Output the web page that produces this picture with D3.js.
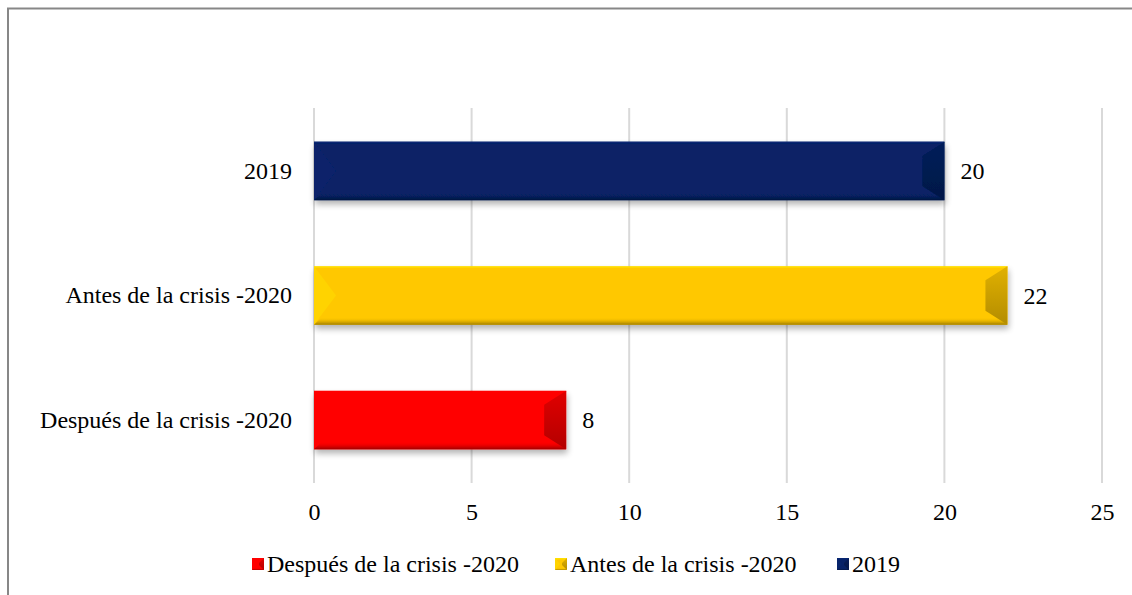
<!DOCTYPE html>
<html>
<head>
<meta charset="utf-8">
<script src="https://cdn.jsdelivr.net/npm/d3@7"></script>
<style>
  body { margin: 0; background: #fff; }
  svg { display: block; }
  svg text { font-family: "Liberation Serif", "Times New Roman", serif; fill: #000; }
</style>
</head>
<body>
<div id="chart"></div>
<script>
// values
var categories = ["2019", "Antes de la crisis -2020", "Después de la crisis -2020"];
var values = [20, 22, 8];
var colors = ["#072266", "#ffc800", "#ff0000"];
var legendOrder = ["Después de la crisis -2020", "Antes de la crisis -2020", "2019"];
var xTicks = [0, 5, 10, 15, 20, 25];

var width = 1132, height = 595;
var margin = {left: 314, right: 30, top: 108, bottom: 112};
var fontSize = 24;

var svg = d3.select("#chart").append("svg")
    .attr("width", width)
    .attr("height", height);

var defs = svg.append("defs");

// drop shadow under each bar
var shadow = defs.append("filter").attr("id", "shadow")
    .attr("x", "-5%").attr("y", "-10%").attr("width", "115%").attr("height", "140%");
shadow.append("feGaussianBlur").attr("in", "SourceAlpha").attr("stdDeviation", 3);
shadow.append("feOffset").attr("dx", 1).attr("dy", 4).attr("result", "b");
shadow.append("feComponentTransfer").append("feFuncA").attr("type", "linear").attr("slope", 0.3);
var merge = shadow.append("feMerge");
merge.append("feMergeNode");
merge.append("feMergeNode").attr("in", "SourceGraphic");

function shade(c, k) {
    var col = d3.color(c);
    return k > 0 ? col.brighter(k).formatHex() : col.darker(-k).formatHex();
}
// gradients for the end face and the bottom rim
colors.forEach(function(c, i) {
    var gr = defs.append("linearGradient").attr("id", "cap" + i)
        .attr("x1", 0).attr("y1", 0).attr("x2", 0).attr("y2", 1);
    gr.append("stop").attr("offset", "0%").attr("stop-color", shade(c, -0.35));
    gr.append("stop").attr("offset", "100%").attr("stop-color", shade(c, -1.0));
    var rim = defs.append("linearGradient").attr("id", "rim" + i)
        .attr("x1", 0).attr("y1", 0).attr("x2", 0).attr("y2", 1);
    rim.append("stop").attr("offset", "0%").attr("stop-color", c).attr("stop-opacity", 0);
    rim.append("stop").attr("offset", "100%").attr("stop-color", shade(c, -1.4));
});

// outer frame (only top and left edges are visible in the picture)
svg.append("path")
    .attr("d", "M8," + height + "V8.5H" + width)
    .attr("fill", "none")
    .attr("stroke", "#878787")
    .attr("stroke-width", 2);

var x = d3.scaleLinear()
    .domain([0, 25])
    .range([margin.left, width - margin.right]);

var y = d3.scaleBand()
    .domain(categories)
    .range([margin.top, height - margin.bottom])
    .paddingInner(0.53)
    .paddingOuter(0.27);

// grid lines
svg.append("g")
    .selectAll("line")
    .data(xTicks)
    .enter().append("line")
    .attr("x1", function(d) { return x(d); })
    .attr("x2", function(d) { return x(d); })
    .attr("y1", margin.top)
    .attr("y2", height - margin.bottom)
    .attr("stroke", "#d9d9d9")
    .attr("stroke-width", 2);

// x axis labels
var xAxis = d3.axisBottom(x).tickValues(xTicks).tickSize(0).tickPadding(20);
var gx = svg.append("g")
    .attr("transform", "translate(0," + (height - margin.bottom) + ")")
    .call(xAxis);
gx.select(".domain").remove();
gx.attr("font-size", fontSize).attr("font-family", null);

// y axis labels
var yAxis = d3.axisLeft(y).tickSize(0).tickPadding(22);
var gy = svg.append("g")
    .attr("transform", "translate(" + margin.left + ",0)")
    .call(yAxis);
gy.select(".domain").remove();
gy.attr("font-size", fontSize).attr("font-family", null);

// bevelled bar: body, rims, end faces
function bevelBar(g, x0, y0, w, h, i, bx, by) {
    var c = colors[i];
    var x1 = x0 + w, y1 = y0 + h, m = y0 + h / 2;
    var rimH = Math.max(2, h * 0.13);
    g.append("rect").attr("x", x0).attr("y", y0).attr("width", w).attr("height", h).attr("fill", c);
    // left face, a lighter wedge pointing to the middle
    g.append("path")
        .attr("d", "M" + x0 + "," + y0 + "L" + (x0 + bx) + "," + m + "L" + x0 + "," + y1 + "Z")
        .attr("fill", shade(c, 0.35)).attr("opacity", 0.4);
    // top rim
    g.append("rect").attr("x", x0).attr("y", y0).attr("width", w).attr("height", 1.5)
        .attr("fill", shade(c, 0.5)).attr("opacity", 0.6);
    // bottom rim
    g.append("path")
        .attr("d", "M" + x0 + "," + y1 + "L" + (x0 + rimH) + "," + (y1 - rimH) + "L" + (x1 - rimH) + "," + (y1 - rimH) + "L" + x1 + "," + y1 + "Z")
        .attr("fill", "url(#rim" + i + ")");
    // right face
    g.append("path")
        .attr("d", "M" + x1 + "," + y0 + "L" + (x1 - bx) + "," + (y0 + by) + "L" + (x1 - bx) + "," + (y1 - by) + "L" + x1 + "," + y1 + "Z")
        .attr("fill", "url(#cap" + i + ")");
}

var bars = svg.append("g").selectAll("g.bar")
    .data(categories)
    .enter().append("g")
    .attr("class", "bar")
    .attr("filter", "url(#shadow)");

bars.each(function(d, i) {
    bevelBar(d3.select(this), x(0), y(d), x(values[i]) - x(0), y.bandwidth(), i, 22, 14);
});

// value labels
svg.append("g").selectAll("text")
    .data(categories)
    .enter().append("text")
    .attr("x", function(d, i) { return x(values[i]) + 16; })
    .attr("y", function(d) { return y(d) + y.bandwidth() / 2; })
    .attr("dy", "0.35em")
    .attr("font-size", fontSize)
    .text(function(d, i) { return values[i]; });

// legend
var legendX = [252, 555, 837];
var legend = svg.append("g").selectAll("g")
    .data(legendOrder)
    .enter().append("g")
    .attr("transform", function(d, i) { return "translate(" + legendX[i] + ",564)"; });

legend.each(function(d) {
    bevelBar(d3.select(this), 0, -6, 12, 12, categories.indexOf(d), 5, 5);
});
legend.append("text")
    .attr("x", 15)
    .attr("dy", "0.35em")
    .attr("font-size", fontSize)
    .text(function(d) { return d; });
</script>
</body>
</html>
